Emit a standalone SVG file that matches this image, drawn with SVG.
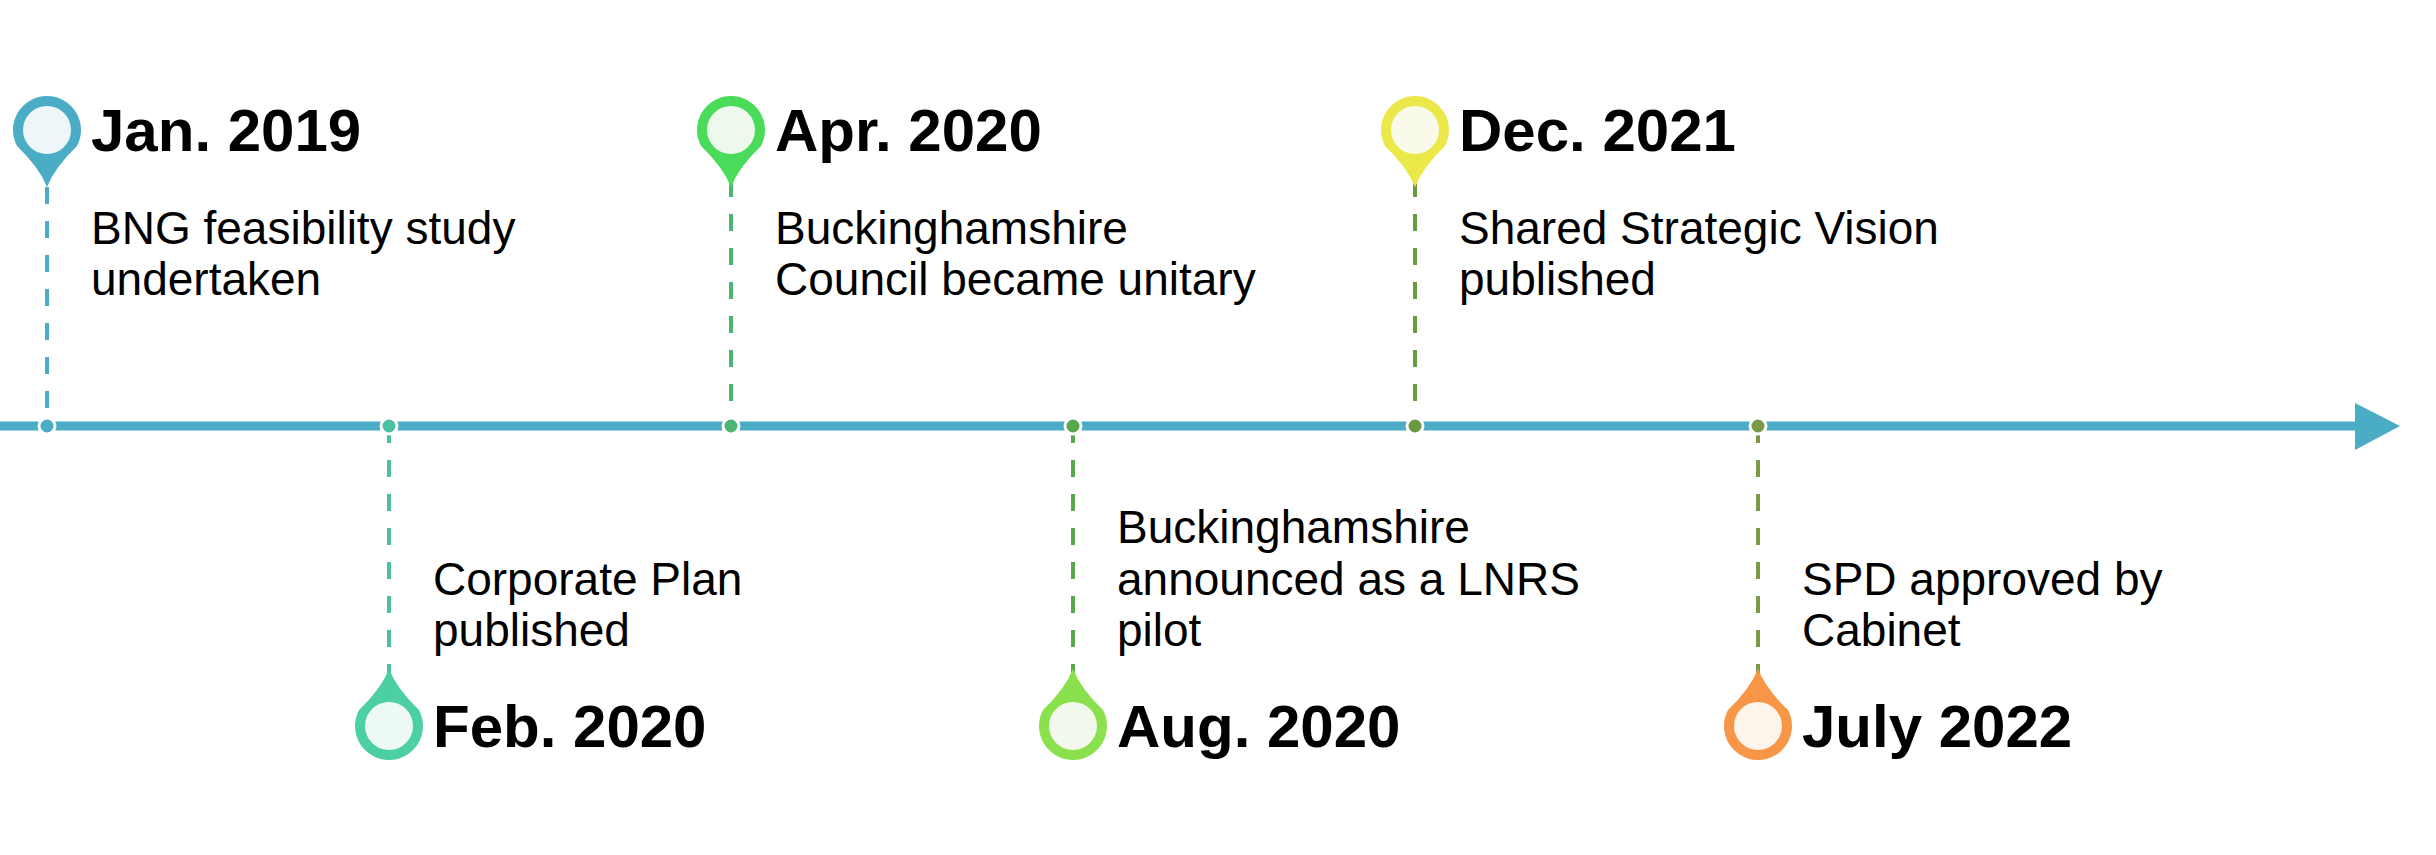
<svg xmlns="http://www.w3.org/2000/svg" width="2436" height="855" viewBox="0 0 2436 855">
<style>
.date{font-family:"Liberation Sans",Arial,sans-serif;font-weight:bold;font-size:60px;fill:#000}
.desc{font-family:"Liberation Sans",Arial,sans-serif;font-size:46px;fill:#000}
.dash{stroke-width:4;stroke-dasharray:17 17;fill:none}
.dot{stroke:#fff;stroke-width:3}
</style>
<defs>
<path id="pinUp" d="M0,57 Q-8,37 -30,16 A34,34 0 1 1 30,16 Q8,37 0,57 Z"/>
<path id="pinDown" d="M0,-57 Q8,-37 30,-16 A34,34 0 1 1 -30,-16 Q-8,-37 0,-57 Z"/>
</defs>
<rect width="2436" height="855" fill="#fff"/>
<g id="connectors">
<line x1="0" y1="426" x2="2360" y2="426" stroke="#4BACC6" stroke-width="9"/>
<polygon points="2355,403 2400,426 2355,450" fill="#4BACC6"/>
<line class="dash" x1="47" y1="187" x2="47" y2="426" stroke="#4BACC6"/>
<line class="dash" x1="389" y1="426" x2="389" y2="680" stroke="#4BBFA3"/>
<line class="dash" x1="731" y1="180" x2="731" y2="426" stroke="#4CB573"/>
<line class="dash" x1="1073" y1="426" x2="1073" y2="680" stroke="#58A84E"/>
<line class="dash" x1="1415" y1="180" x2="1415" y2="426" stroke="#6A9A40"/>
<line class="dash" x1="1758" y1="426" x2="1758" y2="680" stroke="#7A9A48"/>
<circle class="dot" cx="47" cy="426" r="8" fill="#4BACC6"/>
<circle class="dot" cx="389" cy="426" r="8" fill="#4BBFA3"/>
<circle class="dot" cx="731" cy="426" r="8" fill="#4CB573"/>
<circle class="dot" cx="1073" cy="426" r="8" fill="#58A84E"/>
<circle class="dot" cx="1415" cy="426" r="8" fill="#6A9A40"/>
<circle class="dot" cx="1758" cy="426" r="8" fill="#7A9A48"/>
</g>
<g id="jan2019">
<use href="#pinUp" x="47" y="130" fill="#4BACC6"/>
<circle cx="47" cy="130" r="24" fill="#EDF7FA"/>
<text class="date" x="91" y="151">Jan. 2019</text>
<text class="desc" x="91" y="244">BNG feasibility study</text>
<text class="desc" x="91" y="295">undertaken</text>
</g>
<g id="feb2020">
<use href="#pinDown" x="389" y="726" fill="#4DD0A1"/>
<circle cx="389" cy="726" r="24" fill="#EDF9F5"/>
<text class="date" x="433" y="747">Feb. 2020</text>
<text class="desc" x="433" y="595">Corporate Plan</text>
<text class="desc" x="433" y="646">published</text>
</g>
<g id="apr2020">
<use href="#pinUp" x="731" y="130" fill="#4ADB5A"/>
<circle cx="731" cy="130" r="24" fill="#EEF9EE"/>
<text class="date" x="775" y="151">Apr. 2020</text>
<text class="desc" x="775" y="244">Buckinghamshire</text>
<text class="desc" x="775" y="295">Council became unitary</text>
</g>
<g id="aug2020">
<use href="#pinDown" x="1073" y="726" fill="#8BE04E"/>
<circle cx="1073" cy="726" r="24" fill="#F2F9EC"/>
<text class="date" x="1117" y="747">Aug. 2020</text>
<text class="desc" x="1117" y="543">Buckinghamshire</text>
<text class="desc" x="1117" y="595">announced as a LNRS</text>
<text class="desc" x="1117" y="646">pilot</text>
</g>
<g id="dec2021">
<use href="#pinUp" x="1415" y="130" fill="#EBE84A"/>
<circle cx="1415" cy="130" r="24" fill="#FAFAEB"/>
<text class="date" x="1459" y="151">Dec. 2021</text>
<text class="desc" x="1459" y="244">Shared Strategic Vision</text>
<text class="desc" x="1459" y="295">published</text>
</g>
<g id="jul2022">
<use href="#pinDown" x="1758" y="726" fill="#F79646"/>
<circle cx="1758" cy="726" r="24" fill="#FDF4EC"/>
<text class="date" x="1802" y="747">July 2022</text>
<text class="desc" x="1802" y="595">SPD approved by</text>
<text class="desc" x="1802" y="646">Cabinet</text>
</g>
</svg>
